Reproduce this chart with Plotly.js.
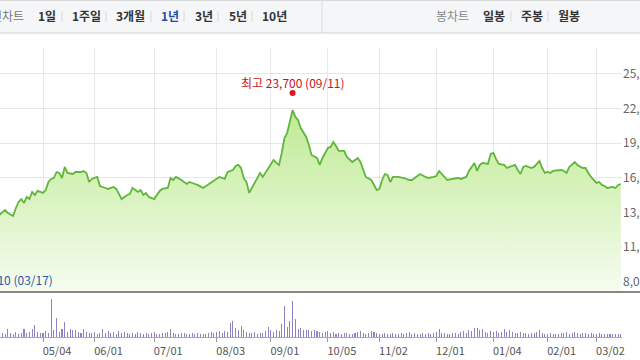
<!DOCTYPE html>
<html>
<head>
<meta charset="utf-8">
<script src="https://cdn.plot.ly/plotly-3.0.1.min.js"></script>
<style>
html,body{margin:0;padding:0;background:#fff;}
#chart{width:640px;height:360px;}
</style>
</head>
<body>
<div id="chart"></div>
<script>
// ---- data (trading-day index: 0 = 2020-05-04) ----
const monthTickIdx = [0, 19, 41, 64, 84, 105, 124, 145, 166, 186, 204];
const monthTickText = ["05/04","06/01","07/01","08/03","09/01","10/05","11/02","12/01","01/04","02/01","03/02"];

const priceIdx = [-16,-14,-13,-11,-10,-9,-8,-7,-6,-5,-4,-3,-2,0,1,2,3,4,5,6,7,8,9,11,12,14,15,16,17,18,20,21,23,24,26,27,28,29,31,32,33,35,36,37,38,39,41,42,43,44,46,47,48,49,51,53,54,56,57,59,60,62,63,65,67,68,70,71,72,73,74,75,76,77,79,80,81,83,84,85,86,87,88,89,90,91,92,93,94,95,97,98,99,101,102,103,104,105,106,107,108,109,111,112,114,116,117,118,119,121,122,123,124,125,126,127,128,129,131,133,135,136,138,139,141,142,144,145,146,147,148,149,151,153,154,156,157,159,160,161,162,164,165,166,167,168,170,171,172,174,175,176,177,178,180,181,183,184,185,186,187,188,191,192,193,194,196,197,199,200,201,202,204,205,206,207,208,210,211,212,213];
const priceVal = [13750,14170,13920,13660,14340,14850,15100,14770,15280,15100,15700,15450,15790,15620,15870,16550,16810,16890,17400,17320,16890,17830,17320,17230,17400,17400,17490,17320,16550,16810,16980,16210,16040,15960,16130,15960,15530,15100,15450,15530,16040,15700,15870,15450,15620,15280,15100,15450,15790,15960,16040,16890,16720,16980,16720,16380,16550,16380,16300,16040,16210,16470,16640,16980,16810,17400,17570,17910,18000,17740,16890,16550,15620,16040,16980,17320,16980,17740,18000,18420,18170,18000,19020,20290,20720,21820,22670,22080,21820,21140,20380,19700,18850,18590,18000,18590,19020,19440,19530,19950,19610,19190,19190,18680,18250,18590,18250,17570,16980,16720,16300,15870,15960,16720,17230,17150,16550,16980,16980,16890,16720,16720,17060,17230,16980,16890,16980,17060,17490,17230,17060,16720,16810,16890,16810,16980,17490,18170,17490,18000,18170,18080,18930,19020,18510,18080,18000,17740,17830,18000,17570,17230,17830,17910,17740,17830,18340,17740,17320,17400,17320,17490,17570,17490,17320,17830,18250,18000,17740,17740,17320,16980,16470,16550,16300,16210,16040,16130,16040,16300,16380];

const volumeFirstIdx = -15;
const volumes = [
  95000,72000,182000,88000,64000,110000,76000,98000,180000,84000,120000,176000,270000,112000,90000,
  80000,130000,96000,865000,160000,430000,118000,185000,340000,124000,
  178000,150000,165000,104000,98000,182000,120000,92000,86000,110000,
  78000,102000,186000,96000,130000,88000,122000,74000,140000,92000,
  118000,84000,70000,96000,62000,108000,80000,68000,94000,76000,
  88000,112000,72000,66000,98000,84000,104000,182000,92000,76000,
  70000,86000,100000,78000,64000,90000,74000,82000,60000,72000,
  68000,96000,120000,84000,110000,140000,92000,130000,104000,320000,
  365000,205000,150000,250000,160000,120000,98000,86000,112000,74000,
  90000,96000,132000,230000,150000,118000,170000,140000,296000,706000,
  225000,364000,818000,410000,185000,205000,160000,150000,165000,140000,
  158000,132000,110000,96000,120000,140000,88000,104000,76000,92000,
  70000,100000,84000,62000,78000,90000,112000,128000,96000,74000,
  88000,130000,104000,82000,70000,64000,92000,78000,60000,86000,
  72000,66000,94000,58000,80000,104000,70000,90000,62000,76000,
  84000,68000,96000,74000,88000,120000,185000,98000,80000,72000,
  64000,92000,86000,78000,110000,140000,96000,160000,130000,205000,
  200000,150000,180000,120000,96000,140000,110000,130000,98000,120000,
  182000,118000,160000,104000,92000,84000,110000,96000,80000,74000,
  88000,100000,110000,158000,96000,70000,66000,82000,60000,74000,
  68000,86000,92000,104000,76000,88000,110000,98000,72000,80000,
  94000,70000,86000,64000,76000,82000,68000,58000,72000,64000,
  60000,70000,66000,74000
];

const yTickVals = [8050, 11000, 13950, 16900, 19850, 22800, 25750];
const yTickText = ["8,050","11,000","13,950","16,900","19,850","22,800","25,750"];

const highIdx = 92, highValue = 23700, highLabel = "최고 23,700 (09/11)";
const lowLabel = "최저 8,710 (03/17)";

const leftMenu = [["라인차트", -22, "#777", false], ["1일", 36, "#333", true], ["1주일", 70, "#333", true], ["3개월", 114, "#333", true], ["1년", 159, "#1f4fa3", true], ["3년", 193, "#333", true], ["5년", 227, "#333", true], ["10년", 260, "#333", true]];
const rightMenu = [["봉차트", 434, "#888", false], ["일봉", 481, "#333", true], ["주봉", 519, "#333", true], ["월봉", 556, "#333", true]];
const menuSeps = [62, 106, 151, 184, 218, 252, 511, 548];

// ---- layout helpers (pixel -> paper) ----
const W = 622, H = 337;
const px = x => x / W;
const py = y => (H - y) / H;
const FONT = "'Noto Sans CJK KR', 'Noto Sans', sans-serif";

const volX = volumes.map((_, i) => i + volumeFirstIdx);

const traces = [
  {
    type: 'scatter', mode: 'lines', x: priceIdx, y: priceVal,
    xaxis: 'x', yaxis: 'y',
    line: {color: '#5fb63a', width: 1.8, shape: 'linear'},
    fill: 'tozeroy',
    fillgradient: {type: 'vertical', start: 7200, stop: 22670,
      colorscale: [[0, '#f6fcf0'], [1, '#bfea94']]},
    hoverinfo: 'skip'
  },
  {
    type: 'bar', x: volX, y: volumes, xaxis: 'x2', yaxis: 'y2',
    width: 0.38, marker: {color: '#8c84c2', line: {width: 0}},
    hoverinfo: 'skip'
  }
];

const shapes = [
  // toolbar
  {type: 'rect', xref: 'paper', yref: 'paper', x0: -0.01, x1: 1.05, y0: py(33), y1: py(0), fillcolor: '#f5f6f8', line: {width: 0}, layer: 'above'},
  {type: 'line', xref: 'paper', yref: 'paper', x0: -0.01, x1: 1.05, y0: py(0.5), y1: py(0.5), line: {color: '#d8d8d8', width: 1}, layer: 'above'},
  {type: 'line', xref: 'paper', yref: 'paper', x0: -0.01, x1: 1.05, y0: py(33), y1: py(33), line: {color: '#d5d5d5', width: 1}, layer: 'above'},
  {type: 'line', xref: 'paper', yref: 'paper', x0: px(322), x1: px(322), y0: py(33), y1: py(0), line: {color: '#dcdcdc', width: 1}, layer: 'above'},
  // separator between price and volume
  {type: 'line', xref: 'paper', yref: 'paper', x0: -0.01, x1: 1.05, y0: py(292), y1: py(292), line: {color: '#606060', width: 1.5}, layer: 'above'},
  // high marker
  {type: 'circle', xref: 'x', yref: 'y', xsizemode: 'pixel', ysizemode: 'pixel',
   xanchor: highIdx, yanchor: highValue, x0: -3, x1: 3, y0: 2, y1: 8,
   fillcolor: '#e0141e', line: {width: 0}}
];
menuSeps.forEach(s => shapes.push({type: 'line', xref: 'paper', yref: 'paper', x0: px(s), x1: px(s), y0: py(22), y1: py(11), line: {color: '#d8d8d8', width: 1}, layer: 'above'}));

const annotations = [
  {xref: 'x', yref: 'y', x: highIdx, y: highValue, yshift: 15, text: highLabel, showarrow: false,
   font: {family: FONT, size: 12, color: '#d0101a'}, xanchor: 'center', yanchor: 'middle'},
  {xref: 'paper', yref: 'paper', x: px(55), y: py(279), text: lowLabel, showarrow: false,
   font: {family: FONT, size: 12, color: '#2a5aa8'}, xanchor: 'right', yanchor: 'middle'}
];
leftMenu.concat(rightMenu).forEach(m => annotations.push({
  xref: 'paper', yref: 'paper', x: px(m[1]), y: py(16), text: m[3] ? '<b>' + m[0] + '</b>' : m[0],
  showarrow: false, xanchor: 'left', yanchor: 'middle',
  font: {family: FONT, size: 12, color: m[2]}
}));

const layout = {
  width: 640, height: 360,
  margin: {l: 0, r: 18, t: 0, b: 23, pad: 0},
  paper_bgcolor: '#ffffff', plot_bgcolor: 'rgba(0,0,0,0)',
  showlegend: false,
  font: {family: FONT, size: 11, color: '#555'},
  xaxis: {
    domain: [0, 1], range: [-15.85, 213.42], anchor: 'y',
    tickvals: monthTickIdx, showticklabels: false, ticks: '',
    showgrid: true, gridcolor: '#e8e8e8', gridwidth: 1, zeroline: false, showline: false
  },
  yaxis: {
    domain: [py(292), py(48)], range: [7200, 8050 + (282 - 48) * 85], side: 'right', anchor: 'x',
    tickvals: yTickVals, ticktext: yTickText, ticks: '',
    showgrid: true, gridcolor: '#e6e6e6', gridwidth: 1, zeroline: false, showline: false,
    tickfont: {family: FONT, size: 12, color: '#666'}
  },
  xaxis2: {
    domain: [0, 1], range: [-15.85, 213.42], anchor: 'y2',
    tickvals: monthTickIdx, ticktext: monthTickText,
    ticks: 'outside', ticklen: 4, tickcolor: '#999', tickwidth: 1,
    showline: true, linecolor: '#aaaaaa', linewidth: 1,
    showgrid: false, zeroline: false, ticklabelshift: 14,
    tickfont: {family: FONT, size: 11, color: '#555'}
  },
  yaxis2: {
    domain: [0, py(293)], range: [0, 1000000], anchor: 'x2',
    showticklabels: false, showgrid: false, zeroline: false, ticks: ''
  },
  bargap: 0,
  shapes: shapes,
  annotations: annotations
};

Plotly.newPlot('chart', traces, layout, {displayModeBar: false, staticPlot: true});
</script>
</body>
</html>
